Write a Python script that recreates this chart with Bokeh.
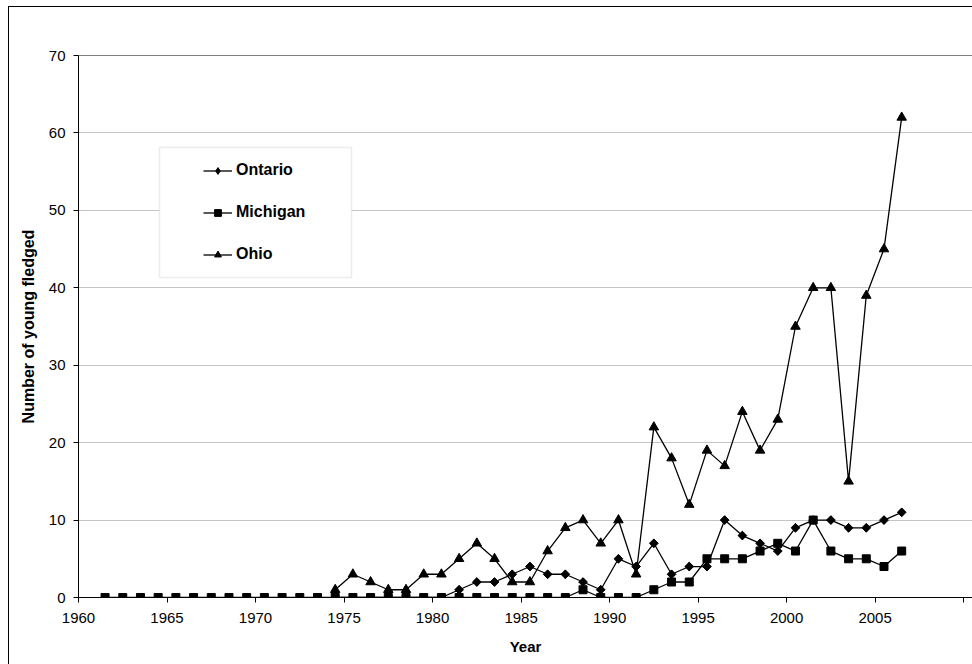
import math
from bokeh.plotting import figure
from bokeh.models import (Range1d, FixedTicker, Legend, LegendItem, Span,
                          BoxAnnotation)
from bokeh.embed import file_html
from bokeh.resources import INLINE

# ---- data ----
years_michigan = list(range(1961, 2007))
michigan = [0, 0, 0, 0, 0, 0, 0, 0, 0, 0,
            0, 0, 0, 0, 0, 0, 0, 0, 0, 0,
            0, 0, 0, 0, 0, 0, 0, 1, 0, 0,
            0, 1, 2, 2, 5, 5, 5, 6, 7, 6,
            10, 6, 5, 5, 4, 6]

years_ontario = list(range(1974, 2007))
ontario = [0, 0, 0, 0, 0, 0, 0, 1, 2, 2,
           3, 4, 3, 3, 2, 1, 5, 4, 7, 3,
           4, 4, 10, 8, 7, 6, 9, 10, 10, 9,
           9, 10, 11]

years_ohio = list(range(1974, 2007))
ohio = [1, 3, 2, 1, 1, 3, 3, 5, 7, 5,
        2, 2, 6, 9, 10, 7, 10, 3, 22, 18,
        12, 19, 17, 24, 19, 23, 35, 40, 40, 15,
        39, 45, 62]

x_ticks = [1960, 1965, 1970, 1975, 1980, 1985, 1990, 1995, 2000, 2005, 2010]
y_ticks = [0, 10, 20, 30, 40, 50, 60, 70]

# points sit mid-way through each year
def mid(years):
    return [yr + 0.5 for yr in years]

FONT = "Liberation Sans"

p = figure(width=972, height=664, output_backend="svg", toolbar_location=None,
           x_range=Range1d(1960, 2010.5), y_range=Range1d(0, 70),
           min_border_left=78, min_border_right=0, min_border_top=55,
           min_border_bottom=67)
# outer chart-area frame (left and top edges visible)
p.styles = {
    "background-color": "white",
    "background-image": "linear-gradient(#000,#000), linear-gradient(#000,#000)",
    "background-size": "1px 100%, 100% 1px",
    "background-position": "8px 6px, 8px 6px",
    "background-repeat": "no-repeat",
}
p.outline_line_color = None
p.background_fill_color = "white"
p.border_fill_alpha = 0

# axes
p.xaxis.ticker = FixedTicker(ticks=x_ticks)
p.xaxis.major_label_overrides = {2010: ""}
p.yaxis.ticker = FixedTicker(ticks=y_ticks)
for ax in (p.xaxis[0], p.yaxis[0]):
    ax.axis_line_color = "black"
    ax.axis_line_width = 1
    ax.major_tick_line_color = "black"
    ax.major_tick_out = 5
    ax.major_tick_in = 0
    ax.minor_tick_line_color = None
    ax.major_label_text_font = FONT
    ax.major_label_text_font_size = "15px"
    ax.major_label_text_color = "black"
    ax.axis_label_text_font = FONT
    ax.axis_label_text_font_style = "bold"
    ax.axis_label_text_color = "black"
p.xaxis.axis_label = "Year"
p.xaxis.axis_label_text_font_size = "15px"
p.xaxis.major_label_standoff = 10
p.xaxis.axis_label_standoff = 12
p.yaxis.axis_label = "Number of young fledged"
p.yaxis.axis_label_text_font_size = "16px"
p.yaxis.major_label_standoff = 8
p.yaxis.axis_label_standoff = 9

p.xgrid.grid_line_color = None
p.ygrid.ticker = FixedTicker(ticks=[10, 20, 30, 40, 50, 60])
p.ygrid.grid_line_color = "#c4c4c4"
p.ygrid.grid_line_width = 1

# top border of plot area
p.add_layout(Span(location=70, dimension="width", line_color="black", line_width=1))

# series
lw = 1.3
r_on_l = p.line(mid(years_ontario), ontario, line_color="black", line_width=lw)
# plain diamond (used by the legend), fully covered by the rotated square below
r_on_leg = p.scatter(mid(years_ontario), ontario, marker="diamond", size=8,
                     fill_color="black", line_color="black")
r_on_m = p.scatter(mid(years_ontario), ontario, marker="square", angle=math.pi / 4,
                   size=6.2, fill_color="black", line_color="black")
r_mi_l = p.line(mid(years_michigan), michigan, line_color="black", line_width=lw)
r_mi_m = p.scatter(mid(years_michigan), michigan, marker="square", size=8,
                   fill_color="black", line_color="black")
r_oh_l = p.line(mid(years_ohio), ohio, line_color="black", line_width=lw)
r_oh_m = p.scatter(mid(years_ohio), ohio, marker="triangle", size=9.5,
                   fill_color="black", line_color="black")

# legend box
p.add_layout(BoxAnnotation(left=81, right=273, bottom=320, top=450,
                           left_units="screen", right_units="screen",
                           bottom_units="screen", top_units="screen",
                           fill_color="white", fill_alpha=1,
                           line_color="#c0c0c0", line_width=1.5))

legend = Legend(items=[
    LegendItem(label="Ontario", renderers=[r_on_l, r_on_leg]),
    LegendItem(label="Michigan", renderers=[r_mi_l, r_mi_m]),
    LegendItem(label="Ohio", renderers=[r_oh_l, r_oh_m]),
], location=(125, 333), padding=0, spacing=22, glyph_width=29, glyph_height=17,
   label_height=20, label_standoff=4, border_line_color=None,
   background_fill_alpha=0, label_text_font=FONT, label_text_font_style="bold",
   label_text_font_size="16px", label_text_color="black", margin=0)
p.add_layout(legend, "center")

open("out.html", "w").write(file_html(p, INLINE))
